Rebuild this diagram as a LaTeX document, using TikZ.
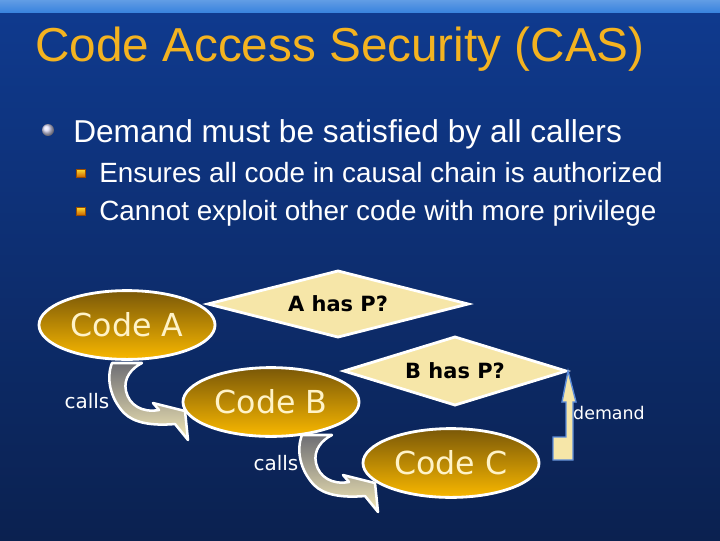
\documentclass[tikz,border=0pt]{standalone}
\usepackage{fontspec}
\setmainfont{Liberation Sans}
\newfontfamily\tahoma{DejaVu Sans}
\usetikzlibrary{shapes.geometric}

\definecolor{stripcol}{HTML}{3A84DE}
\definecolor{bgtop}{HTML}{0F3A8E}
\definecolor{bgmid}{HTML}{1747A5}
\definecolor{bgbot}{HTML}{0B2150}
\definecolor{titlecol}{HTML}{F4B320}
\definecolor{codetop}{HTML}{7A5808}
\definecolor{codemid}{HTML}{D49A05}
\definecolor{codebot}{HTML}{F9B800}
\definecolor{codetext}{HTML}{FFF3C8}
\definecolor{diafill}{HTML}{F6E6A8}
\definecolor{callgray}{HTML}{6E6E74}
\definecolor{callcream}{HTML}{F3E8B6}
\definecolor{demline}{HTML}{5B8BD9}

\tikzset{
  codeell/.style={ellipse, draw=white, line width=2pt, top color=codetop,
    middle color=codemid, bottom color=codebot, minimum width=4.4cm,
    minimum height=1.72cm, inner sep=0pt, text=codetext,
    font=\tahoma\fontsize{22.5}{27}\selectfont},
  hasdia/.style={diamond, draw=white, line width=2pt, fill=diafill,
    inner sep=0pt, aspect=3.7, font=\tahoma\bfseries\fontsize{14.9}{18}\selectfont},
  callsarrow/.style={draw=white, line width=1.8pt, line join=round,
    top color=callgray, bottom color=callcream},
  lbl/.style={text=white, inner sep=0pt, font=\tahoma\fontsize{14.2}{17}\selectfont},
  subbullet/.style={draw=orange!60!black, line width=0.3pt, top color=orange!30!yellow!80, bottom color=orange!80!black}
}

\begin{document}
\begin{tikzpicture}
[x=0.025cm, y=-0.025cm]
  \useasboundingbox (0,0) rectangle (720,540);

  % slide background
  \fill[top color=bgtop, middle color=bgmid, bottom color=bgbot] (0,12) rectangle (720,540);
  \fill[top color=stripcol!80!white, bottom color=stripcol] (0,0) rectangle (720,12);

  % title and bullets
  \node (title) at (35,61) [anchor=base west, inner sep=0pt, text=titlecol,
    font=\fontsize{33.9}{40}\selectfont] {Code Access Security (CAS)};
  \shade[ball color=gray!25!blue!15!white] (48,130) circle (0.15cm);
  \node (demand) at (73,142) [anchor=base west, inner sep=0pt, text=white,
    font=\fontsize{22.5}{27}\selectfont] {Demand must be satisfied by all callers};
  \draw[subbullet] (76,169) rectangle (85,177);
  \draw[subbullet] (76,207) rectangle (85,215);
  \node (ensures) at (99,182) [anchor=base west, inner sep=0pt, text=white,
    font=\fontsize{19.8}{24}\selectfont] {Ensures all code in causal chain is authorized};
  \node (cannot) at (99,220) [anchor=base west, inner sep=0pt, text=white,
    font=\fontsize{19.8}{24}\selectfont] {Cannot exploit other code with more privilege};

  % checks
  \node (ahas) at (338,304) [hasdia, minimum width=6.53cm, minimum height=1.68cm] {A has P?};
  \node (bhas) at (455,371) [hasdia, minimum width=5.58cm, minimum height=1.73cm] {B has P?};

  % calls
  \foreach \sx/\sy in {112/363, 302/435}
  {
    \begin{scope}[shift={(\sx,\sy)}]
      \filldraw[callsarrow] (0,0) .. controls (-6,15) and (-2,35) .. (12,50)
        .. controls (22,60) and (40,63) .. (63,61) -- (76,77) -- (73,48)
        -- (41,40) -- (47,47) .. controls (30,50) and (17,42) .. (14,28)
        .. controls (11,15) and (20,5) .. (30,0) -- cycle;
    \end{scope}
  }

  \node (codea) at (127,325) [codeell] {Code A};
  \node (codeb) at (271,402) [codeell] {Code B};
  \node (codec) at (451,463) [codeell] {Code C};

  \node (callsa) at (87,401) [lbl] {calls};
  \node (callsb) at (276,463) [lbl] {calls};

  % demand
  \filldraw[draw=demline, fill=diafill, line width=1pt, line join=miter]
    (553,460) -- (553,437) -- (566,437) -- (566,402) -- (562,402) -- (bhas.east)
    -- (576,402) -- (573,402) -- (573,460) -- cycle;
  \node (demlbl) at (609,413) [lbl, font=\tahoma\fontsize{12.4}{15}\selectfont] {demand};
\end{tikzpicture}
\end{document}
